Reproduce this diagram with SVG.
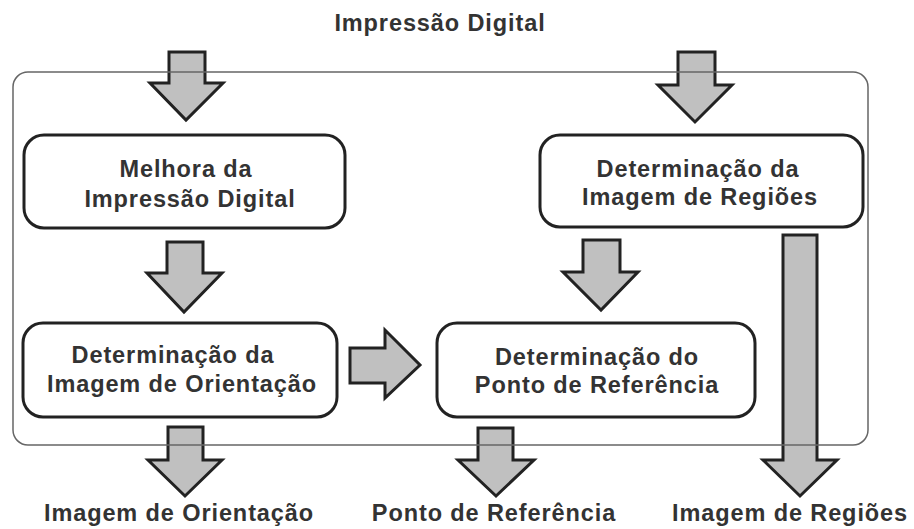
<svg xmlns="http://www.w3.org/2000/svg" width="914" height="529" viewBox="0 0 914 529">
<style>
.t{font-family:"Liberation Sans",Arial,sans-serif;font-weight:bold;font-size:23.5px;fill:#333;letter-spacing:0.9px;text-anchor:middle}
.box{fill:#fff;stroke:#222;stroke-width:3}
.arr{fill:#c0c0c0;stroke:#222;stroke-width:3;stroke-linejoin:miter}
</style>
<rect width="914" height="529" fill="#fff"/>
<g id="connectors">
<path class="arr" d="M169,52 H205 V83 H223 L186,120 L150,83 H169 Z"/>
<path class="arr" d="M678,52 H715 V85 H732 L695,122 L658,85 H678 Z"/>
<path class="arr" d="M167,242 H203 V273 H222 L184,312 L147,273 H167 Z"/>
<path class="arr" d="M583,240 H620 V272 H638 L601,310 L563,272 H583 Z"/>
<path class="arr" d="M350,348 H385 V330 L420,365 L385,398 V383 H350 Z"/>
<path class="arr" d="M783,235 H817 V460 H837 L800,496 L763,460 H783 Z"/>
<path class="arr" d="M168,427 H203 V460 H222 L185,496 L148,460 H168 Z"/>
<path class="arr" d="M478,428 H513 V460 H534 L496,496 L458,460 H478 Z"/>
</g>
<rect id="frame" x="13" y="72" width="855" height="373" rx="15" fill="none" stroke="#666" stroke-width="1.5"/>
<g id="n1">
<rect class="box" x="24" y="135" width="321" height="93" rx="20"/>
<text class="t" x="186" y="177">Melhora da</text>
<text class="t" x="190" y="207">Impressão Digital</text>
</g>
<g id="n2">
<rect class="box" x="540" y="135" width="323" height="92" rx="20"/>
<text class="t" x="698" y="177">Determinação da</text>
<text class="t" x="700" y="205">Imagem de Regiões</text>
</g>
<g id="n3">
<rect class="box" x="23" y="323" width="314" height="94" rx="20"/>
<text class="t" x="173" y="363">Determinação da</text>
<text class="t" x="182" y="392">Imagem de Orientação</text>
</g>
<g id="n4">
<rect class="box" x="437" y="323" width="318" height="94" rx="20"/>
<text class="t" x="597" y="365">Determinação do</text>
<text class="t" x="597" y="393">Ponto de Referência</text>
</g>
<g id="labels">
<text class="t" x="440" y="31">Impressão Digital</text>
<text class="t" x="179" y="521">Imagem de Orientação</text>
<text class="t" x="494" y="521">Ponto de Referência</text>
<text class="t" x="790" y="521">Imagem de Regiões</text>
</g>
</svg>
